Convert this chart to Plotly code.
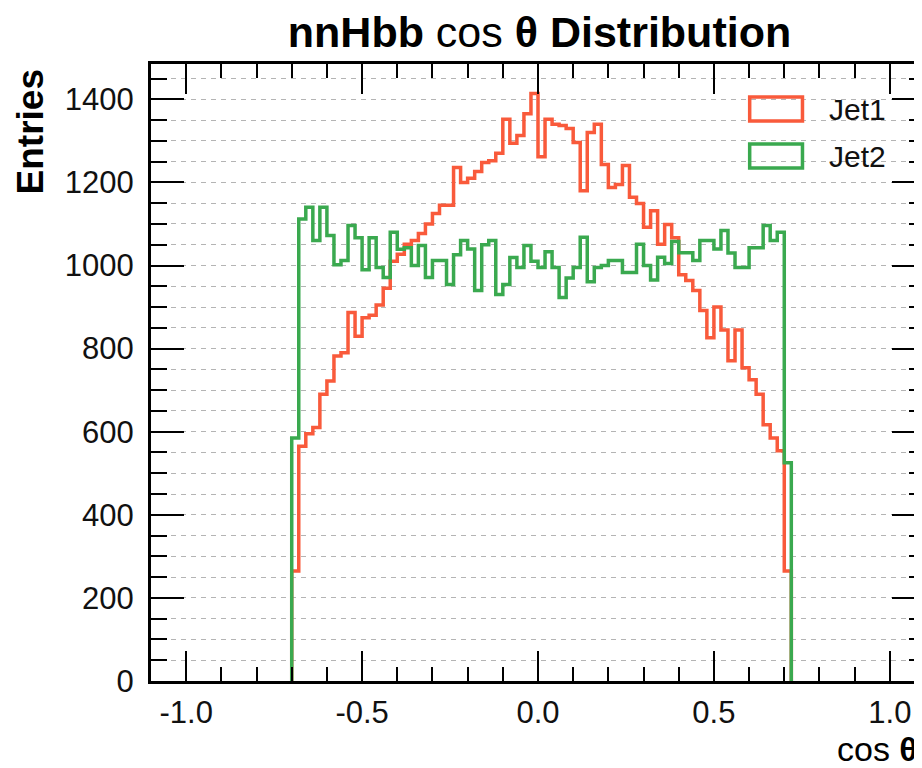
import plotly.graph_objects as go

# ---------------- data ----------------
bin_low = -0.70
bin_width = 0.02

jet1_counts = [265, 565, 595, 610, 690, 722, 782, 790, 887, 830,
               874, 880, 905, 945, 1010, 1027, 1051, 1060, 1077, 1100,
               1125, 1145, 1145, 1236, 1200, 1210, 1226, 1248, 1252, 1270,
               1352, 1294, 1313, 1365, 1414, 1262, 1352, 1340, 1337, 1330,
               1296, 1180, 1320, 1340, 1243, 1188, 1195, 1241, 1164, 1149,
               1092, 1132, 1051, 1099, 1067, 978, 964, 940, 892, 826,
               900, 845, 771, 845, 754, 725, 690, 617, 585, 554,
               265]

jet2_counts = [585, 1112, 1140, 1060, 1140, 1072, 1002, 1012, 1096, 1067,
               990, 1067, 995, 971, 1080, 1039, 1043, 1000, 1048, 971,
               1012, 1012, 954, 1026, 1060, 1040, 940, 1050, 1060, 930,
               954, 1019, 995, 1048, 1010, 995, 1033, 995, 923, 970,
               995, 1068, 961, 995, 1000, 1012, 1012, 983, 983, 1051,
               1000, 965, 1020, 1005, 1058, 1031, 1031, 1012, 1060, 1060,
               1040, 1084, 1030, 995, 995, 1043, 1043, 1096, 1060, 1080,
               525]

series_names = ["Jet1", "Jet2"]
series_colors = ["#f95a3b", "#3aa94f"]

x_tick_vals = [-1.0, -0.5, 0.0, 0.5, 1.0]
x_tick_text = ["-1.0", "-0.5", "0.0", "0.5", "1.0"]
y_tick_vals = [0, 200, 400, 600, 800, 1000, 1200, 1400]

x_range = [-1.1, 1.1]
y_range = [0, 1485]

# ---------------- layout geometry (pixels) ----------------
W, H = 922, 768
ML, MR, MT, MB = 143, 2, 56, 95
PW, PH = W - ML - MR, H - MT - MB


def px_x(px):
    return (px - ML) / PW


def px_y(py):
    return (H - MB - py) / PH


def step_xy(counts):
    n = len(counts)
    edges = [bin_low + bin_width * k for k in range(n + 1)]
    xs = [edges[0]] + edges[:n] + [edges[n]]
    ys = [0] + list(counts) + [0]
    return xs, ys


fig = go.Figure()
for name, counts, col in zip(series_names, [jet1_counts, jet2_counts], series_colors):
    xs, ys = step_xy(counts)
    fig.add_trace(go.Scatter(x=xs, y=ys, mode="lines", name=name,
                             line=dict(color=col, width=3.5, shape="hv"),
                             showlegend=False, hoverinfo="skip"))

font_family = "Liberation Sans, Arial, Helvetica, sans-serif"

fig.update_layout(
    width=W, height=H,
    margin=dict(l=ML, r=MR, t=MT, b=MB, pad=0),
    paper_bgcolor="white", plot_bgcolor="white",
    font=dict(family=font_family, color="black"),
    title=dict(text="<b>nnHbb</b> cos <b>θ</b> <b>Distribution</b>",
               font=dict(size=43, family=font_family, color="black"),
               x=px_x(533), xref="paper", xanchor="center",
               y=1 - 24 / H, yref="container", yanchor="middle"),
    showlegend=False,
)

fig.update_xaxes(
    range=x_range, showgrid=False, zeroline=False,
    showline=True, linecolor="black", linewidth=3, mirror="allticks",
    ticks="inside", ticklen=30, tickwidth=2, tickcolor="black",
    tickvals=x_tick_vals, ticktext=x_tick_text,
    tickfont=dict(size=31, family=font_family, color="#111"),
    ticklabelstandoff=2,
    minor=dict(ticks="inside", ticklen=14, tickwidth=2, tickcolor="black",
               dtick=0.1, tick0=0, showgrid=False),
)

fig.update_yaxes(
    range=y_range, zeroline=False,
    showline=True, linecolor="black", linewidth=3, mirror="allticks",
    ticks="inside", ticklen=33, tickwidth=2, tickcolor="black",
    tickvals=y_tick_vals,
    tickfont=dict(size=31, family=font_family, color="#111"),
    ticklabelstandoff=8,
    showgrid=True, gridcolor="#b4b4b4", gridwidth=1, griddash="5px,5px",
    minor=dict(ticks="inside", ticklen=16, tickwidth=2, tickcolor="black",
               dtick=50, tick0=0, showgrid=True, gridcolor="#b4b4b4",
               gridwidth=1, griddash="5px,5px"),
)

# axis titles
fig.add_annotation(text="<b>Entries</b>", textangle=-90,
                   x=px_x(22), y=px_y(124), xref="paper", yref="paper",
                   xanchor="center", yanchor="middle", showarrow=False,
                   font=dict(size=37, family=font_family, color="black"))
fig.add_annotation(text="cos <b>θ</b>",
                   x=px_x(915), y=px_y(741), xref="paper", yref="paper",
                   xanchor="right", yanchor="middle", showarrow=False,
                   font=dict(size=34, family=font_family, color="black"))

# legend (boxes + labels)
legend_rows = [(101, series_names[0], series_colors[0]),
               (148, series_names[1], series_colors[1])]
for cy, name, col in legend_rows:
    fig.add_shape(type="rect", xref="paper", yref="paper",
                  x0=px_x(744), x1=px_x(797), y0=px_y(cy - 12), y1=px_y(cy + 12),
                  line=dict(color=col, width=3.5), fillcolor="rgba(0,0,0,0)")
    fig.add_annotation(text=name, x=px_x(822), y=px_y(cy), xref="paper", yref="paper",
                       xanchor="left", yanchor="middle", showarrow=False,
                       font=dict(size=30, family=font_family, color="#111"))

fig.write_html("out.html")
